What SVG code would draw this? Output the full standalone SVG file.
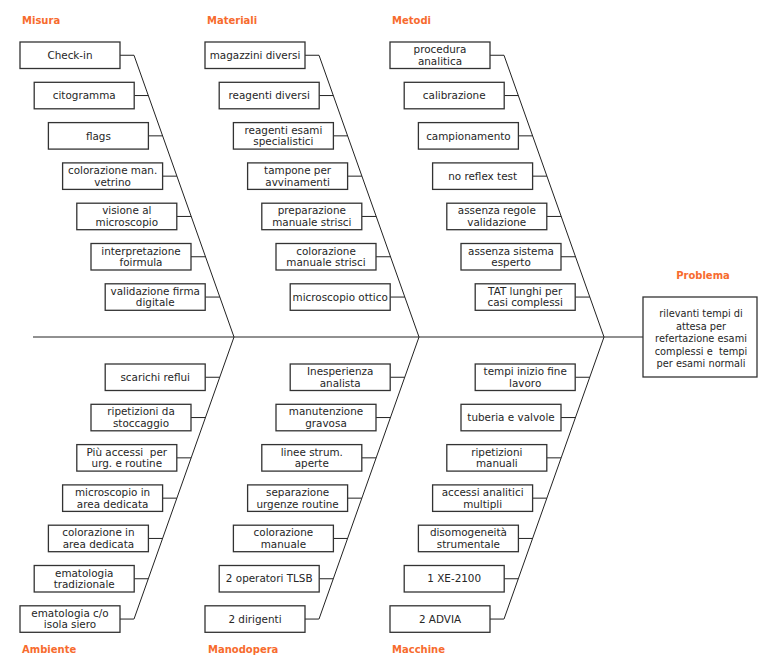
<svg xmlns="http://www.w3.org/2000/svg" width="758" height="655" viewBox="0 0 758 655">
<style>
.b{fill:#fff;stroke:#333;stroke-width:1.3}
.t{font-family:"DejaVu Sans",Verdana,sans-serif;font-size:10.4px;fill:#262626;text-anchor:middle}
.p{font-size:9.8px}
.h{font-family:"DejaVu Sans",Verdana,sans-serif;font-size:10px;font-weight:bold;fill:#F76B2E}
.l{stroke:#222;stroke-width:1;fill:none}
</style>
<rect width="758" height="655" fill="#fff"/>
<g id="connectors" class="l">
<line x1="33" y1="337" x2="643" y2="337"/>
<path d="M134,55.25 L234,337 L134,619.05"/>
<path d="M319,55.25 L419,337 L319,619.05"/>
<path d="M504,55.25 L604,337 L504,619.05"/>
<path d="M120,55.25H134M134.2,95.55H148.3M148.4,135.85H162.6M162.6,176.15H176.9M176.8,216.45H191.2M191,256.75H205.5M205.2,297.05H219.8"/>
<path d="M305,55.25H319M319.2,95.55H333.3M333.4,135.85H347.6M347.6,176.15H361.9M361.8,216.45H376.2M376,256.75H390.5M390.2,297.05H404.8"/>
<path d="M490,55.25H504M504.2,95.55H518.3M518.4,135.85H532.6M532.6,176.15H546.9M546.8,216.45H561.2M561,256.75H575.5M575.2,297.05H589.8"/>
<path d="M205.2,377.25H219.7M191,417.55H205.4M176.8,457.85H191.1M162.6,498.15H176.8M148.4,538.45H162.5M134.2,578.75H148.2M120,619.05H133.9"/>
<path d="M390.2,377.25H404.7M376,417.55H390.4M361.8,457.85H376.1M347.6,498.15H361.8M333.4,538.45H347.5M319.2,578.75H333.2M305,619.05H318.9"/>
<path d="M575.2,377.25H589.7M561,417.55H575.4M546.8,457.85H561.1M532.6,498.15H546.8M518.4,538.45H532.5M504.2,578.75H518.2M490,619.05H503.9"/>
</g>
<g id="headers">
<text class="h" x="22" y="24">Misura</text>
<text class="h" x="207" y="24">Materiali</text>
<text class="h" x="392" y="24">Metodi</text>
<text class="h" x="703" y="279" text-anchor="middle">Problema</text>
<text class="h" x="22" y="652.5">Ambiente</text>
<text class="h" x="208" y="652.5">Manodopera</text>
<text class="h" x="392" y="652.5">Macchine</text>
</g>
<g id="problem"><rect class="b" x="643" y="297" width="114" height="80"/>
<text class="t p" x="701"><tspan x="701" y="317">rilevanti tempi di</tspan><tspan x="701" y="329.6">attesa per</tspan><tspan x="701" y="342.2">refertazione esami</tspan><tspan x="701" y="354.8" xml:space="preserve">complessi e  tempi</tspan><tspan x="701" y="367.4">per esami normali</tspan></text></g>
<!-- Misura -->
<g id="m1"><rect class="b" x="20" y="42" width="100" height="26.5"/><text class="t" x="70" y="58.9">Check-in</text></g>
<g id="m2"><rect class="b" x="34.2" y="82.3" width="100" height="26.5"/><text class="t" x="84.2" y="99.2">citogramma</text></g>
<g id="m3"><rect class="b" x="48.4" y="122.6" width="100" height="26.5"/><text class="t" x="98.4" y="139.5">flags</text></g>
<g id="m4"><rect class="b" x="62.6" y="162.9" width="100" height="26.5"/><text class="t"><tspan x="112.6" y="173.9">colorazione man.</tspan><tspan x="112.6" y="185.5">vetrino</tspan></text></g>
<g id="m5"><rect class="b" x="76.8" y="203.2" width="100" height="26.5"/><text class="t"><tspan x="126.8" y="214.2">visione al</tspan><tspan x="126.8" y="225.8">microscopio</tspan></text></g>
<g id="m6"><rect class="b" x="91" y="243.5" width="100" height="26.5"/><text class="t"><tspan x="141" y="254.5">interpretazione</tspan><tspan x="141" y="266.1">foirmula</tspan></text></g>
<g id="m7"><rect class="b" x="105.2" y="283.8" width="100" height="26.5"/><text class="t"><tspan x="155.2" y="294.8">validazione firma</tspan><tspan x="155.2" y="306.4">digitale</tspan></text></g>
<!-- Materiali -->
<g id="t1"><rect class="b" x="205" y="42" width="100" height="26.5"/><text class="t" x="255" y="58.9">magazzini diversi</text></g>
<g id="t2"><rect class="b" x="219.2" y="82.3" width="100" height="26.5"/><text class="t" x="269.2" y="99.2">reagenti diversi</text></g>
<g id="t3"><rect class="b" x="233.4" y="122.6" width="100" height="26.5"/><text class="t"><tspan x="283.4" y="133.6">reagenti esami</tspan><tspan x="283.4" y="145.2">specialistici</tspan></text></g>
<g id="t4"><rect class="b" x="247.6" y="162.9" width="100" height="26.5"/><text class="t"><tspan x="297.6" y="173.9">tampone per</tspan><tspan x="297.6" y="185.5">avvinamenti</tspan></text></g>
<g id="t5"><rect class="b" x="261.8" y="203.2" width="100" height="26.5"/><text class="t"><tspan x="311.8" y="214.2">preparazione</tspan><tspan x="311.8" y="225.8">manuale strisci</tspan></text></g>
<g id="t6"><rect class="b" x="276" y="243.5" width="100" height="26.5"/><text class="t"><tspan x="326" y="254.5">colorazione</tspan><tspan x="326" y="266.1">manuale strisci</tspan></text></g>
<g id="t7"><rect class="b" x="290.2" y="283.8" width="100" height="26.5"/><text class="t" x="340.2" y="300.7">microscopio ottico</text></g>
<!-- Metodi -->
<g id="d1"><rect class="b" x="390" y="42" width="100" height="26.5"/><text class="t"><tspan x="440" y="53">procedura</tspan><tspan x="440" y="64.6">analitica</tspan></text></g>
<g id="d2"><rect class="b" x="404.2" y="82.3" width="100" height="26.5"/><text class="t" x="454.2" y="99.2">calibrazione</text></g>
<g id="d3"><rect class="b" x="418.4" y="122.6" width="100" height="26.5"/><text class="t" x="468.4" y="139.5">campionamento</text></g>
<g id="d4"><rect class="b" x="432.6" y="162.9" width="100" height="26.5"/><text class="t" x="482.6" y="179.8">no reflex test</text></g>
<g id="d5"><rect class="b" x="446.8" y="203.2" width="100" height="26.5"/><text class="t"><tspan x="496.8" y="214.2">assenza regole</tspan><tspan x="496.8" y="225.8">validazione</tspan></text></g>
<g id="d6"><rect class="b" x="461" y="243.5" width="100" height="26.5"/><text class="t"><tspan x="511" y="254.5">assenza sistema</tspan><tspan x="511" y="266.1">esperto</tspan></text></g>
<g id="d7"><rect class="b" x="475.2" y="283.8" width="100" height="26.5"/><text class="t"><tspan x="525.2" y="294.8">TAT lunghi per</tspan><tspan x="525.2" y="306.4">casi complessi</tspan></text></g>
<!-- Ambiente -->
<g id="a1"><rect class="b" x="105.2" y="364" width="100" height="26.5"/><text class="t" x="155.2" y="380.9">scarichi reflui</text></g>
<g id="a2"><rect class="b" x="91" y="404.3" width="100" height="26.5"/><text class="t"><tspan x="141" y="415.3">ripetizioni da</tspan><tspan x="141" y="426.9">stoccaggio</tspan></text></g>
<g id="a3"><rect class="b" x="76.8" y="444.6" width="100" height="26.5"/><text class="t" xml:space="preserve"><tspan x="126.8" y="455.6">Più accessi  per</tspan><tspan x="126.8" y="467.2">urg. e routine</tspan></text></g>
<g id="a4"><rect class="b" x="62.6" y="484.9" width="100" height="26.5"/><text class="t"><tspan x="112.6" y="495.9">microscopio in</tspan><tspan x="112.6" y="507.5">area dedicata</tspan></text></g>
<g id="a5"><rect class="b" x="48.4" y="525.2" width="100" height="26.5"/><text class="t"><tspan x="98.4" y="536.2">colorazione in</tspan><tspan x="98.4" y="547.8">area dedicata</tspan></text></g>
<g id="a6"><rect class="b" x="34.2" y="565.5" width="100" height="26.5"/><text class="t"><tspan x="84.2" y="576.5">ematologia</tspan><tspan x="84.2" y="588.1">tradizionale</tspan></text></g>
<g id="a7"><rect class="b" x="20" y="605.8" width="100" height="26.5"/><text class="t"><tspan x="70" y="616.8">ematologia c/o</tspan><tspan x="70" y="628.4">isola siero</tspan></text></g>
<!-- Manodopera -->
<g id="p1"><rect class="b" x="290.2" y="364" width="100" height="26.5"/><text class="t"><tspan x="340.2" y="375">Inesperienza</tspan><tspan x="340.2" y="386.6">analista</tspan></text></g>
<g id="p2"><rect class="b" x="276" y="404.3" width="100" height="26.5"/><text class="t"><tspan x="326" y="415.3">manutenzione</tspan><tspan x="326" y="426.9">gravosa</tspan></text></g>
<g id="p3"><rect class="b" x="261.8" y="444.6" width="100" height="26.5"/><text class="t"><tspan x="311.8" y="455.6">linee strum.</tspan><tspan x="311.8" y="467.2">aperte</tspan></text></g>
<g id="p4"><rect class="b" x="247.6" y="484.9" width="100" height="26.5"/><text class="t"><tspan x="297.6" y="495.9">separazione</tspan><tspan x="297.6" y="507.5">urgenze routine</tspan></text></g>
<g id="p5"><rect class="b" x="233.4" y="525.2" width="100" height="26.5"/><text class="t"><tspan x="283.4" y="536.2">colorazione</tspan><tspan x="283.4" y="547.8">manuale</tspan></text></g>
<g id="p6"><rect class="b" x="219.2" y="565.5" width="100" height="26.5"/><text class="t" x="269.2" y="582.4">2 operatori TLSB</text></g>
<g id="p7"><rect class="b" x="205" y="605.8" width="100" height="26.5"/><text class="t" x="255" y="622.7">2 dirigenti</text></g>
<!-- Macchine -->
<g id="c1"><rect class="b" x="475.2" y="364" width="100" height="26.5"/><text class="t"><tspan x="525.2" y="375">tempi inizio fine</tspan><tspan x="525.2" y="386.6">lavoro</tspan></text></g>
<g id="c2"><rect class="b" x="461" y="404.3" width="100" height="26.5"/><text class="t" x="511" y="421.2">tuberia e valvole</text></g>
<g id="c3"><rect class="b" x="446.8" y="444.6" width="100" height="26.5"/><text class="t"><tspan x="496.8" y="455.6">ripetizioni</tspan><tspan x="496.8" y="467.2">manuali</tspan></text></g>
<g id="c4"><rect class="b" x="432.6" y="484.9" width="100" height="26.5"/><text class="t"><tspan x="482.6" y="495.9">accessi analitici</tspan><tspan x="482.6" y="507.5">multipli</tspan></text></g>
<g id="c5"><rect class="b" x="418.4" y="525.2" width="100" height="26.5"/><text class="t"><tspan x="468.4" y="536.2">disomogeneità</tspan><tspan x="468.4" y="547.8">strumentale</tspan></text></g>
<g id="c6"><rect class="b" x="404.2" y="565.5" width="100" height="26.5"/><text class="t" x="454.2" y="582.4">1 XE-2100</text></g>
<g id="c7"><rect class="b" x="390" y="605.8" width="100" height="26.5"/><text class="t" x="440" y="622.7">2 ADVIA</text></g>
</svg>
